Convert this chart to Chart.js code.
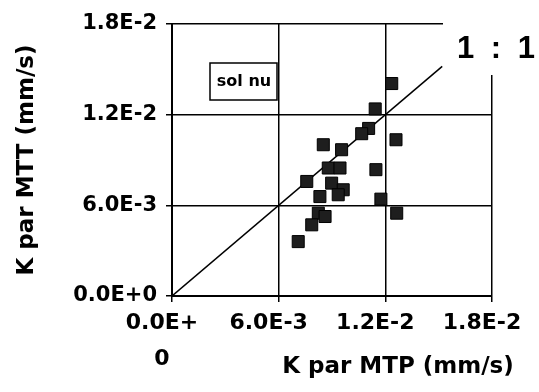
<!DOCTYPE html>
<html><head><meta charset="utf-8">
<script src="https://cdn.jsdelivr.net/npm/chart.js@4/dist/chart.umd.min.js"></script>
<style>html,body{margin:0;padding:0;background:#fff}#wrap{width:539px;height:392px}</style>
</head><body><div id="wrap"><canvas id="c" width="539" height="392"></canvas></div>
<script>
// ---- data ----
const xTickLabels = [['0.0E+', '0'], '6.0E-3', '1.2E-2', '1.8E-2'];
const yTickLabels = ['0.0E+0', '6.0E-3', '1.2E-2', '1.8E-2'];
// K par MTP (mm/s), in units of 1E-3
const kMTP = [12.36, 11.43, 11.06, 10.67, 12.60, 8.51, 9.54, 8.79, 9.45, 11.47, 7.58,
              8.98, 9.63, 9.35, 8.32, 11.75, 12.64, 8.23, 8.61, 7.86, 7.10];
// K par MTT (mm/s), in units of 1E-3
const kMTT = [14.06, 12.38, 11.09, 10.74, 10.34, 10.01, 9.68, 8.47, 8.47, 8.36, 7.58,
              7.47, 7.03, 6.70, 6.58, 6.41, 5.48, 5.48, 5.26, 4.71, 3.60];
const oneToOneX = [0, 0.0152];
const oneToOneY = [0, 0.0152];
const seriesLabel = 'sol nu';
const ratioLabel = '1 : 1';
const xTitle = 'K par MTP (mm/s)';
const yTitle = 'K par MTT (mm/s)';

const pts = kMTP.map((v, i) => ({x: v / 1000, y: kMTT[i] / 1000}));
const linePts = oneToOneX.map((v, i) => ({x: v, y: oneToOneY[i]}));

const FONT = "'DejaVu Sans', sans-serif";

const annot = {
  id: 'annot',
  afterDraw(chart) {
    const ctx = chart.ctx;
    ctx.save();
    // white patch behind "1 : 1"
    ctx.fillStyle = '#fff';
    ctx.fillRect(443, 0, 96, 75);
    ctx.fillStyle = '#000';
    ctx.font = "bold 31px 'Liberation Sans', Arial, sans-serif";
    ctx.textAlign = 'center';
    ctx.textBaseline = 'middle';
    if ('letterSpacing' in ctx) ctx.letterSpacing = '4px';
    ctx.fillText(ratioLabel, 498, 49);
    if ('letterSpacing' in ctx) ctx.letterSpacing = '0px';
    // legend box
    ctx.fillStyle = '#fff';
    ctx.fillRect(210, 63, 67, 37);
    ctx.strokeStyle = '#000';
    ctx.lineWidth = 1.5;
    ctx.strokeRect(210, 63, 67, 37);
    ctx.fillStyle = '#000';
    ctx.font = "bold 16px " + FONT;
    ctx.fillText(seriesLabel, 244, 82);
    // x axis title
    ctx.font = "bold 23px " + FONT;
    ctx.fillText(xTitle, 398, 367);
    ctx.restore();
  }
};

new Chart(document.getElementById('c'), {
  type: 'scatter',
  data: {
    datasets: [
      {
        label: seriesLabel,
        data: pts,
        pointStyle: 'rect',
        pointRadius: 8.5,
        pointHoverRadius: 8.5,
        backgroundColor: '#1e1e1e',
        borderColor: '#000',
        borderWidth: 1
      },
      {
        label: ratioLabel,
        type: 'line',
        data: linePts,
        borderColor: '#000',
        borderWidth: 1.5,
        pointRadius: 0,
        fill: false
      }
    ]
  },
  options: {
    responsive: false,
    animation: false,
    events: [],
    layout: {padding: {left: 0, top: 24, right: 47, bottom: 0}},
    plugins: {legend: {display: false}, tooltip: {enabled: false}},
    scales: {
      x: {
        type: 'linear', min: 0, max: 0.018,
        afterFit(s) { s.height = 96; },
        afterBuildTicks(s) { s.ticks = [0, 0.006, 0.012, 0.018].map(v => ({value: v})); },
        grid: {color: '#000', lineWidth: 1.5, tickLength: 6, drawTicks: true},
        border: {color: '#000', width: 2},
        ticks: {
          color: '#000', padding: 4, labelOffset: -10, maxRotation: 0, autoSkip: false,
          font: {family: FONT, weight: 'bold', size: 22, lineHeight: 1.6},
          callback: (v, i) => xTickLabels[i]
        }
      },
      y: {
        type: 'linear', min: 0, max: 0.018,
        afterFit(s) { s.width = 172; },
        afterBuildTicks(s) { s.ticks = [0, 0.006, 0.012, 0.018].map(v => ({value: v})); },
        grid: {color: '#000', lineWidth: 1.5, tickLength: 6, drawTicks: true},
        border: {color: '#000', width: 2},
        ticks: {
          color: '#000', padding: 9, autoSkip: false,
          font: {family: FONT, weight: 'bold', size: 21},
          callback: (v, i) => yTickLabels[i]
        },
        title: {
          display: true, text: yTitle, color: '#000',
          padding: {top: 13, bottom: 0},
          font: {family: FONT, weight: 'bold', size: 23}
        }
      }
    }
  },
  plugins: [annot]
});
</script>
</body></html>
